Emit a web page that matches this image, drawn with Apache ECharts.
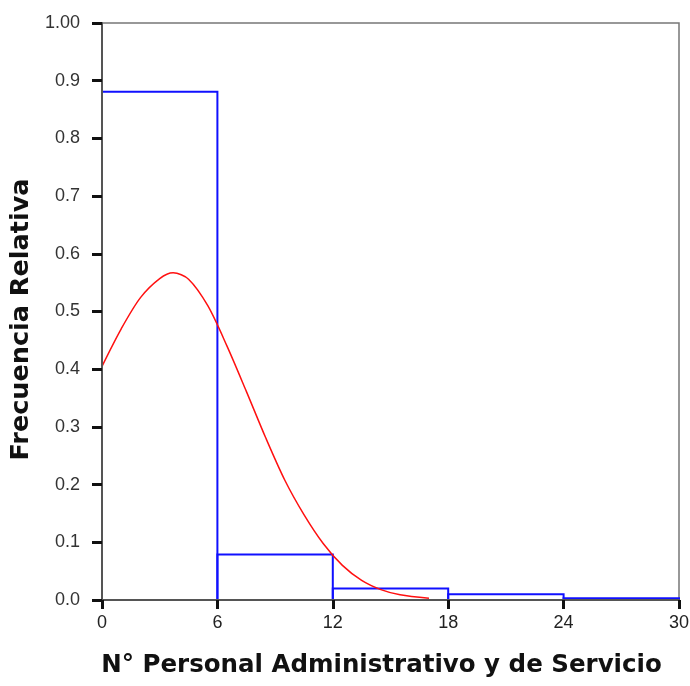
<!DOCTYPE html>
<html>
<head>
<meta charset="utf-8">
<script src="https://cdn.jsdelivr.net/npm/echarts@6/dist/echarts.min.js"></script>
<style>
  html, body { margin: 0; padding: 0; background: #fff; }
  #main { width: 690px; height: 686px; }
</style>
</head>
<body>
<div id="main"></div>
<script>
// histogram bins (class limits) and relative frequency
var binStart = [0, 6, 12, 18, 24];
var binEnd = [6, 12, 18, 24, 30];
var binFreq = [0.881, 0.079, 0.020, 0.010, 0.003];

// fitted curve
var curveX = [0, 1, 2, 3, 3.7, 4.5, 5.5, 6.5, 7.5, 8.5, 9.5, 10.5, 11.5, 12.5, 13.5, 14.5, 15.5, 17];
var curveY = [0.405, 0.47, 0.524, 0.557, 0.567, 0.556, 0.51, 0.44, 0.362, 0.282, 0.208, 0.148, 0.098, 0.060, 0.034, 0.018, 0.009, 0.003];

var xTicks = [0, 6, 12, 18, 24, 30];

var chart = echarts.init(document.getElementById('main'));

var barData = [];
for (var i = 0; i < binFreq.length; i++) {
  barData.push([binStart[i], binEnd[i], binFreq[i]]);
}
var curveData = [];
for (var j = 0; j < curveX.length; j++) {
  curveData.push([curveX[j], curveY[j]]);
}

var option = {
  backgroundColor: '#fff',
  animation: false,
  grid: {
    left: 102,
    right: 11,
    top: 23,
    bottom: 86,
    outerBoundsMode: 'none',
    show: true,
    borderColor: '#777',
    borderWidth: 1.5
  },
  xAxis: {
    type: 'value',
    min: 0,
    max: 30,
    interval: 6,
    z: 10,
    name: 'N° Personal Administrativo y de Servicio',
    nameLocation: 'middle',
    nameGap: 53,
    nameTextStyle: {
      fontFamily: 'DejaVu Sans', fontWeight: 'bold', fontSize: 24.5, color: '#111',
      padding: [0, 18, 0, 0]
    },
    axisLine: { lineStyle: { color: '#555', width: 2 } },
    axisTick: { length: 9, lineStyle: { color: '#111', width: 3 } },
    axisLabel: {
      margin: 14,
      fontFamily: 'Liberation Sans Narrow, Liberation Sans',
      fontSize: 18,
      color: '#222',
      formatter: function (v) { return xTicks.indexOf(v) >= 0 ? String(v) : ''; }
    },
    splitLine: { show: false }
  },
  yAxis: {
    type: 'value',
    min: 0,
    max: 1,
    interval: 0.1,
    z: 10,
    name: 'Frecuencia Relativa',
    nameLocation: 'middle',
    nameGap: 67,
    nameTextStyle: {
      fontFamily: 'DejaVu Sans', fontWeight: 'bold', fontSize: 25.5, color: '#111',
      padding: [0, 16, 0, 0]
    },
    axisLine: { lineStyle: { color: '#555', width: 2 } },
    axisTick: { length: 10, lineStyle: { color: '#111', width: 3 } },
    axisLabel: {
      margin: 22,
      fontFamily: 'Liberation Sans',
      fontSize: 18,
      color: '#333',
      formatter: function (v) { return v >= 0.999 ? '1.00' : v.toFixed(1); }
    },
    splitLine: { show: false }
  },
  series: [
    {
      type: 'custom',
      name: 'Histograma',
      data: barData,
      encode: { x: [0, 1], y: 2 },
      renderItem: function (params, api) {
        var p0 = api.coord([api.value(0), api.value(2)]);
        var p1 = api.coord([api.value(1), 0]);
        return {
          type: 'rect',
          shape: { x: p0[0], y: p0[1], width: p1[0] - p0[0], height: p1[1] - p0[1] },
          style: { fill: 'none', stroke: '#1010ff', lineWidth: 2 }
        };
      },
      z: 3
    },
    {
      type: 'line',
      name: 'Curva',
      data: curveData,
      smooth: 0.3,
      showSymbol: false,
      lineStyle: { color: '#ff1010', width: 1.5 },
      z: 4
    }
  ]
};

chart.setOption(option);
</script>
</body>
</html>
